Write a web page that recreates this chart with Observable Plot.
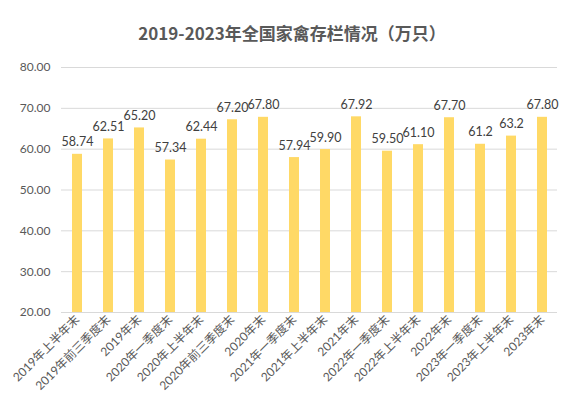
<!DOCTYPE html>
<html><head><meta charset="utf-8">
<script src="https://cdn.jsdelivr.net/npm/d3@7"></script>
<script src="https://cdn.jsdelivr.net/npm/@observablehq/plot@0.6"></script>
<style>
body{margin:0;background:#fff;font-family:Lato,"Noto Sans CJK SC",sans-serif;}
#title{height:50px;line-height:50px;padding-top:8px;box-sizing:border-box;text-align:center;font-size:17px;font-weight:bold;color:#595959;font-family:"Noto Sans CJK SC",sans-serif;}
</style></head>
<body>
<div id="title">2019-2023年全国家禽存栏情况（万只）</div>
<div id="chart"></div>
<script>
const categories = ["2019年上半年末","2019年前三季度末","2019年末","2020年一季度末","2020年上半年末","2020年前三季度末","2020年末","2021年一季度末","2021年上半年末","2021年末","2022年一季度末","2022年上半年末","2022年末","2023年一季度末","2023年上半年末","2023年末"];
const values = [58.74,62.51,65.20,57.34,62.44,67.20,67.80,57.94,59.90,67.92,59.50,61.10,67.70,61.2,63.2,67.80];
const labels = ["58.74","62.51","65.20","57.34","62.44","67.20","67.80","57.94","59.90","67.92","59.50","61.10","67.70","61.2","63.2","67.80"];
const yTicks = [20,30,40,50,60,70,80];
const data = categories.map((c,i)=>({cat:c, v:values[i], label:labels[i]}));

const chart = Plot.plot({
  width:584, height:355,
  marginTop:17, marginBottom:93, marginLeft:61, marginRight:27,
  style:{fontFamily:'Lato,"Noto Sans CJK SC",sans-serif', fontSize:"12px", color:"#595959"},
  x:{domain:categories, paddingInner:0.68, paddingOuter:0.34, label:null, tickSize:0, tickRotate:-45, tickPadding:5},
  y:{domain:[20,80], ticks:yTicks, label:null, tickSize:0, tickPadding:11, tickFormat:d=>d.toFixed(2)},
  marks:[
    Plot.gridY(yTicks,{stroke:"#D9D9D9", strokeOpacity:1}),
    Plot.barY(data,{x:"cat", y1:20, y2:"v", fill:"#FFD966"}),
    Plot.ruleY([20],{stroke:"#D9D9D9"}),
    Plot.text(data,{x:"cat", y:"v", text:"label", dy:-12, fill:"#404040", fontSize:12.5})
  ]
});
document.getElementById("chart").appendChild(chart);
</script>
</body></html>
